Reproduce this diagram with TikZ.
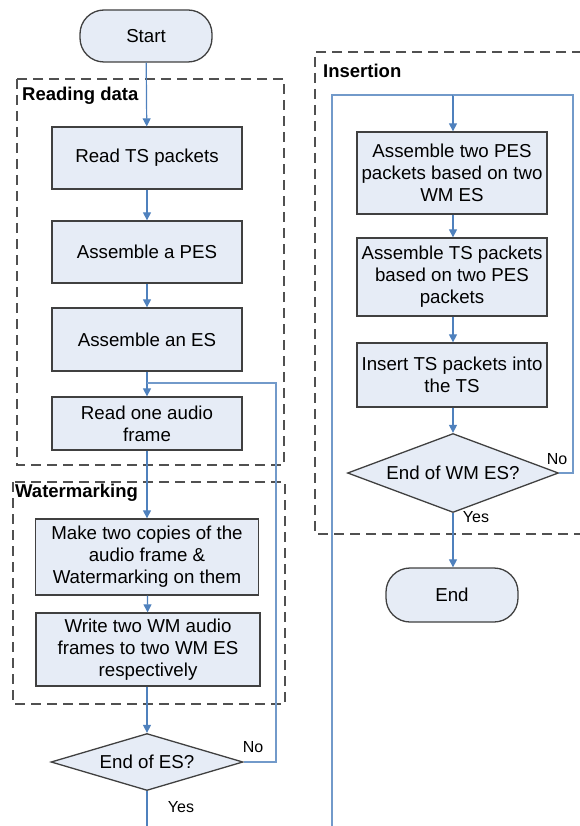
\documentclass[tikz,border=0pt]{standalone}
\usepackage{fontspec}
\setmainfont{Liberation Sans}
\usetikzlibrary{shapes.geometric,arrows.meta}
\definecolor{boxfill}{RGB}{230,236,246}
\definecolor{boxline}{RGB}{64,64,64}
\definecolor{conn}{RGB}{79,129,189}
\definecolor{dashc}{RGB}{80,80,80}
\begin{document}
\begin{tikzpicture}[x=1pt,y=-1pt,
  font=\fontsize{18.7}{22}\selectfont,
  procbox/.style={draw=boxline,fill=boxfill,line width=1.3pt,align=center,inner sep=2pt},
  termbox/.style={draw=boxline,fill=boxfill,line width=1.3pt,rounded corners=24pt,align=center,minimum width=132pt},
  decbox/.style={draw=boxline,fill=boxfill,line width=1.3pt,diamond,aspect=3.4,inner sep=0pt,align=center},
  arr/.style={draw=conn,line width=1.2pt,-{Triangle[width=8pt,length=8pt]}},
  loopline/.style={draw=conn!80,line width=1.1pt},
  group/.style={draw=dashc,line width=1.5pt,dash pattern=on 10pt off 6pt},
  grouplabel/.style={font=\fontsize{18.5}{22}\selectfont\bfseries,anchor=west,inner sep=0pt},
  small/.style={font=\fontsize{16}{19}\selectfont,inner sep=0pt}]
\useasboundingbox (0,0) rectangle (579,826);
% groups
\draw[group] (17,79) rectangle (284,465);
\draw[group] (13,482) rectangle (285,704);
\draw[group] (582,52) -- (315,52) -- (315,534) -- (582,534);
\node[grouplabel] (lread) at (22,96) {Reading data};
\node[grouplabel] (lwm) at (15,493) {Watermarking};
\node[grouplabel] (lins) at (323,71) {Insertion};
% left column
\node[termbox,minimum height=52pt] (start) at (146,36) {Start};
\node[procbox,minimum width=190pt,minimum height=62pt] (read) at (147,158) {Read TS packets};
\node[procbox,minimum width=190pt,minimum height=62pt] (pes) at (147,252) {Assemble a PES};
\node[procbox,minimum width=190pt,minimum height=63pt] (es) at (147,339.5) {Assemble an ES};
\node[procbox,minimum width=190pt,minimum height=53pt] (frame) at (147,423.5) {Read one audio\\frame};
\node[procbox,minimum width=223pt,minimum height=76pt] (copies) at (147,557) {Make two copies of the\\audio frame \&\\Watermarking on them};
\node[procbox,minimum width=224pt,minimum height=73pt] (write) at (148,649.5) {Write two WM audio\\frames to two WM ES\\respectively};
\node[decbox,minimum width=192pt,minimum height=57pt] (endes) at (147,762) {End of ES?};
\coordinate (loopL) at (276,383);
\coordinate (joinL) at (147,383);
\coordinate (outL) at (147,826);
% right column
\node[procbox,minimum width=190pt,minimum height=82pt] (a1) at (452,173) {Assemble two PES\\packets based on two\\WM ES};
\node[procbox,minimum width=190pt,minimum height=78pt] (a2) at (452,277) {Assemble TS packets\\based on two PES\\packets};
\node[procbox,minimum width=190pt,minimum height=64pt] (a3) at (452,375) {Insert TS packets into\\the TS};
\node[decbox,minimum width=211pt,minimum height=79pt] (endwm) at (453,473) {End of WM ES?};
\node[termbox,minimum height=54pt] (fin) at (452,595) {End};
\coordinate (inR) at (332,826);
\coordinate (topR) at (453,95);
\coordinate (loopR) at (573,95);
% connectors left
\draw[arr] (start) -- (read);
\draw[arr] (read) -- (pes);
\draw[arr] (pes) -- (es);
\draw[arr] (es) -- (frame);
\draw[arr] (frame) -- (copies);
\draw[arr] (copies) -- (write);
\draw[arr] (write.south -| endes.north) -- (endes.north);
\draw[loopline] (endes.east) -| (loopL) -- (joinL);
\draw[draw=conn,line width=1.2pt] (endes.south) -- (outL);
\node[small] (noL) at (253,747) {No};
\node[small] (yesL) at (181,807) {Yes};
% connectors right
\draw[loopline] (inR) |- (topR);
\draw[arr] (topR) -- (topR |- a1.north);
\draw[arr] (a1.south -| topR) -- (a2.north -| topR);
\draw[arr] (a2.south -| topR) -- (a3.north -| topR);
\draw[arr] (a3.south -| topR) -- (endwm.north);
\draw[loopline] (endwm.east) -| (loopR) -- (topR);
\draw[arr] (endwm.south) -- (endwm.south |- fin.north);
\node[small] (noR) at (557,459) {No};
\node[small] (yesR) at (476,517) {Yes};
\end{tikzpicture}
\end{document}
